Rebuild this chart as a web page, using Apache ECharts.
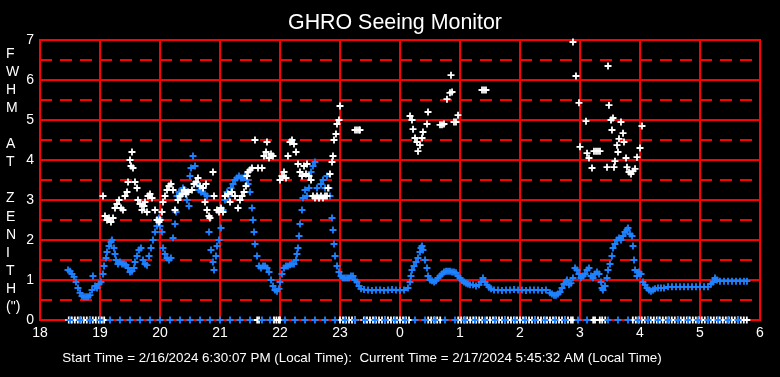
<!DOCTYPE html>
<html>
<head>
<meta charset="utf-8">
<script src="https://cdn.jsdelivr.net/npm/echarts@6/dist/echarts.min.js"></script>
<style>
html,body{margin:0;padding:0;background:#000;}
#chart{width:780px;height:377px;}
</style>
</head>
<body>
<div id="chart"></div>
<script>
// Hours since midnight of start day (values >= 24 are the next morning)
const titleText = 'GHRO Seeing Monitor';
const footerText = 'Start Time = 2/16/2024 6:30:07 PM (Local Time):  Current Time = 2/17/2024 5:45:32 AM (Local Time)';
const yTitle = ['F','W','H','M','','A','T','','Z','E','N','I','T','H','(")'];
const xTickHours = [18,19,20,21,22,23,24,25,26,27,28,29,30];

// White series: [hour, FWHM]
const whiteHours = [19.05,19.083,19.117,19.15,19.183,19.217,19.25,19.283,19.317,19.35,19.383,19.417,19.45,19.467,19.5,19.517,19.533,19.55,19.583,19.617,19.633,19.667,19.7,19.733,19.75,19.783,19.8,19.833,19.867,19.917,19.95,19.983,20.0,20.033,20.05,20.083,20.117,20.15,20.183,20.217,20.25,20.3,20.333,20.367,20.4,20.433,20.467,20.533,20.567,20.6,20.633,20.667,20.717,20.75,20.767,20.783,20.817,20.833,20.883,20.9,20.95,20.983,21.017,21.05,21.083,21.133,21.167,21.2,21.25,21.3,21.333,21.367,21.4,21.433,21.45,21.467,21.5,21.533,21.583,21.633,21.7,21.733,21.767,21.783,21.817,21.85,21.883,22.0,22.033,22.067,22.1,22.133,22.167,22.2,22.233,22.267,22.3,22.333,22.367,22.4,22.433,22.45,22.483,22.517,22.55,22.583,22.617,22.65,22.683,22.717,22.75,22.783,22.8,22.833,22.867,22.883,22.9,22.933,22.95,22.983,23.0,23.25,23.283,23.317,23.333,24.167,24.2,24.217,24.25,24.283,24.3,24.333,24.367,24.383,24.45,24.467,24.667,24.7,24.733,24.783,24.833,24.867,24.85,24.9,24.933,24.967,25.367,25.4,25.433,26.883,26.933,26.983,27.0,27.1,27.117,27.15,27.2,27.233,27.267,27.3,27.333,27.45,27.467,27.483,27.517,27.55,27.533,27.567,27.583,27.617,27.633,27.65,27.683,27.717,27.733,27.767,27.783,27.817,27.85,27.883,27.917,27.95,28.0,28.033];
const whiteFwhm  = [3.1,2.6,2.5,2.55,2.45,2.55,2.8,2.9,3.0,2.8,2.75,3.1,3.2,3.45,4.0,3.85,4.2,3.8,3.45,3.3,3.0,2.9,2.75,2.85,2.95,2.7,3.1,3.15,3.05,2.75,2.5,2.45,2.5,2.7,2.95,3.1,3.25,3.35,3.4,3.25,2.75,3.0,3.1,3.15,3.25,3.15,3.2,3.25,3.4,3.45,3.55,3.35,3.3,2.95,3.4,2.75,2.6,2.55,3.7,3.1,2.75,2.7,2.8,2.7,3.1,3.15,2.95,3.2,3.1,2.8,3.0,3.1,3.2,3.35,3.6,3.7,3.75,3.8,4.5,3.8,3.8,4.1,4.2,4.45,4.05,4.15,4.1,3.5,3.6,3.7,3.55,4.1,4.45,4.5,4.4,4.2,3.9,3.7,3.6,3.85,3.65,3.9,3.6,3.5,3.1,3.05,3.1,3.05,3.1,3.05,3.1,3.1,3.3,3.65,3.95,4.1,4.5,4.65,4.9,5.0,5.35,4.75,4.75,4.75,4.75,5.1,5.0,4.77,4.55,4.45,4.22,4.37,4.55,4.7,4.9,5.2,4.88,4.88,4.9,5.52,5.68,5.7,6.12,4.95,4.95,5.12,5.75,5.75,5.75,6.95,6.1,5.43,4.33,4.97,4.17,4.05,3.8,4.22,4.22,4.22,4.22,3.82,6.35,5.37,5.0,5.05,4.75,3.82,3.97,4.37,4.2,4.53,4.95,4.67,4.45,4.05,3.82,3.7,3.65,3.72,3.78,4.07,4.3,4.85];

// Blue series: [hour, FWHM]
const blueHours = [18.467,18.5,18.533,18.567,18.6,18.633,18.667,18.7,18.733,18.767,18.8,18.833,18.867,18.883,18.917,18.95,18.983,19.017,19.05,19.067,19.1,19.117,19.15,19.183,19.2,19.233,19.25,19.267,19.3,19.333,19.367,19.4,19.433,19.467,19.5,19.533,19.567,19.583,19.617,19.65,19.683,19.717,19.75,19.783,19.817,19.85,19.883,19.917,19.95,19.983,20.0,20.033,20.05,20.083,20.117,20.15,20.183,20.217,20.25,20.267,20.283,20.317,20.35,20.383,20.417,20.45,20.483,20.5,20.517,20.55,20.583,20.617,20.65,20.683,20.717,20.75,20.783,20.817,20.85,20.883,20.9,20.933,20.95,20.983,21.017,21.05,21.083,21.117,21.15,21.183,21.217,21.25,21.283,21.317,21.35,21.383,21.417,21.45,21.467,21.5,21.533,21.55,21.567,21.583,21.617,21.65,21.683,21.717,21.75,21.783,21.817,21.85,21.883,21.917,21.95,21.983,22.0,22.033,22.067,22.1,22.133,22.167,22.2,22.233,22.267,22.283,22.3,22.317,22.333,22.367,22.383,22.417,22.45,22.483,22.517,22.55,22.583,22.617,22.65,22.683,22.717,22.75,22.783,22.817,22.833,22.867,22.883,22.9,22.917,22.95,22.983,23.017,23.05,23.083,23.117,23.15,23.183,23.217,23.25,23.283,23.317,23.35,23.4,23.467,23.533,23.6,23.667,23.733,23.8,23.867,23.933,24.0,24.067,24.133,24.167,24.183,24.2,24.233,24.267,24.3,24.333,24.35,24.367,24.383,24.417,24.45,24.467,24.5,24.533,24.567,24.6,24.633,24.667,24.7,24.733,24.767,24.8,24.833,24.867,24.9,24.933,24.967,25.0,25.033,25.067,25.1,25.133,25.167,25.217,25.267,25.317,25.35,25.383,25.417,25.45,25.483,25.517,25.567,25.633,25.7,25.767,25.833,25.9,25.967,26.033,26.1,26.167,26.233,26.3,26.367,26.433,26.5,26.533,26.567,26.6,26.633,26.667,26.7,26.733,26.767,26.783,26.817,26.85,26.883,26.917,26.95,26.983,27.017,27.05,27.083,27.117,27.15,27.183,27.217,27.25,27.283,27.317,27.35,27.367,27.383,27.417,27.45,27.467,27.5,27.533,27.55,27.583,27.617,27.65,27.683,27.717,27.75,27.783,27.8,27.833,27.867,27.883,27.9,27.917,27.95,27.983,28.017,28.05,28.083,28.117,28.15,28.183,28.217,28.25,28.3,28.35,28.4,28.467,28.533,28.6,28.667,28.733,28.8,28.867,28.933,29.0,29.067,29.133,29.183,29.217,29.25,29.283,29.333,29.4,29.467,29.533,29.6,29.667,29.733,29.783];
const blueFwhm  = [1.25,1.22,1.15,1.08,0.95,0.8,0.68,0.6,0.58,0.58,0.58,0.62,0.75,1.1,0.85,0.8,0.9,0.95,1.15,1.35,1.55,1.7,1.85,1.95,2.0,1.8,1.65,1.5,1.4,1.45,1.4,1.4,1.38,1.3,1.2,1.22,1.3,1.45,1.6,1.75,1.8,1.5,1.4,1.37,1.6,1.8,2.0,2.2,2.35,2.55,2.35,2.2,1.8,1.65,1.55,1.5,1.55,2.05,2.4,2.7,3.1,3.2,3.1,3.3,3.25,3.0,2.85,3.6,3.8,4.1,3.85,3.4,3.25,3.2,3.3,3.15,3.1,2.2,1.75,1.45,1.25,1.6,1.85,2.0,2.3,2.75,3.0,3.2,3.1,3.3,3.4,3.5,3.55,3.6,3.55,3.55,3.6,3.5,3.4,3.2,2.8,2.5,2.2,1.9,1.6,1.35,1.3,1.35,1.35,1.3,1.2,1.0,0.85,0.75,0.72,0.78,0.95,1.15,1.3,1.35,1.35,1.38,1.4,1.4,1.5,1.65,1.8,2.1,2.4,2.75,3.05,3.25,3.1,3.3,3.7,3.85,3.95,3.3,3.05,3.4,3.5,3.3,3.6,3.3,3.1,2.55,2.25,1.9,1.6,1.35,1.2,1.1,1.05,1.05,1.05,1.05,1.1,1.1,1.0,0.95,0.85,0.78,0.76,0.75,0.74,0.75,0.75,0.74,0.75,0.76,0.75,0.74,0.75,0.8,0.95,1.1,1.25,1.35,1.45,1.55,1.7,1.8,1.85,1.75,1.5,1.3,1.1,1.0,0.98,0.95,0.98,1.05,1.1,1.15,1.2,1.22,1.22,1.22,1.2,1.2,1.18,1.1,1.05,0.98,0.95,0.92,0.9,0.88,0.88,0.85,0.88,0.95,1.05,0.95,0.88,0.82,0.78,0.75,0.75,0.74,0.75,0.75,0.76,0.75,0.75,0.74,0.75,0.75,0.75,0.74,0.75,0.68,0.65,0.62,0.62,0.65,0.7,0.8,0.9,0.95,1.0,0.88,0.92,1.05,1.3,1.25,1.15,1.05,1.1,1.15,1.25,1.3,1.1,1.05,1.15,1.2,1.15,0.95,0.8,0.75,0.85,1.05,1.25,1.4,1.6,1.8,1.9,2.0,2.05,2.0,2.1,2.2,2.25,2.3,2.15,2.1,1.85,1.5,1.25,1.1,1.2,1.15,0.95,0.88,0.8,0.75,0.72,0.75,0.78,0.8,0.8,0.8,0.83,0.83,0.83,0.83,0.83,0.83,0.83,0.83,0.83,0.83,0.83,0.9,0.95,1.05,1.0,0.97,0.97,0.97,0.97,0.97,0.97,0.97,0.97];

// Zero readings along the baseline
const whiteZeroHours = [18.48,18.53,18.58,18.63,18.68,18.73,18.78,18.83,18.88,18.93,18.98,19.03,19.07,21.62,21.65,21.9,21.94,21.98,22.0,23.0,23.05,23.1,23.15,23.2,23.25,23.4,23.45,23.5,23.55,23.6,23.65,23.7,23.75,23.8,23.85,23.9,23.95,24.0,24.05,24.1,24.15,24.47,24.52,24.57,24.62,24.67,24.97,25.02,25.07,25.12,25.17,25.22,25.27,25.32,25.37,25.45,25.5,25.55,25.6,25.65,25.7,25.75,25.8,25.85,25.9,25.95,26.0,26.05,26.1,26.15,26.2,26.25,26.3,26.35,26.4,26.45,26.5,26.55,26.6,26.65,26.7,26.75,26.8,26.85,26.88,27.22,27.25,27.33,27.37,27.42,27.88,27.93,27.98,28.03,28.08,28.13,28.18,28.23,28.28,28.33,28.38,28.43,28.48,28.53,28.58,28.63,28.68,28.73,28.78,28.83,28.88,28.93,28.98,29.03,29.08,29.13,29.18,29.23,29.28,29.33,29.38,29.43,29.48,29.53,29.58,29.63,29.68,29.73,29.78];
const blueZeroHours = [18.5,18.667,18.833,19.0,19.167,19.333,19.5,19.667,19.833,20.0,20.167,20.333,20.5,20.667,20.833,21.0,21.167,21.333,21.5,21.7,21.833,22.083,22.25,22.417,22.583,22.75,22.917,23.083,23.25,23.417,23.583,23.75,23.917,24.083,24.25,24.417,24.583,24.75,24.917,25.083,25.25,25.417,25.583,25.75,25.917,26.083,26.25,26.417,26.583,26.75,26.967,27.117,27.467,27.633,27.8,27.967,28.133,28.3,28.467,28.633,28.8,28.967,29.133,29.3,29.467,29.633];

const plusPath = 'path://M0,2.6L7,2.6L7,4.4L0,4.4Z M2.6,0L4.4,0L4.4,7L2.6,7Z';
const WHITE = '#ffffff';
const BLUE = '#1e82ff';
const RED = '#ff0000';

function pairs(xs, ys){ return xs.map((x,i)=>[x, ys[i]]); }
function zeros(xs){ return xs.map(x=>[x, 0]); }

const chart = echarts.init(document.getElementById('chart'), null, {renderer:'canvas'});
chart.setOption({
  backgroundColor: '#000000',
  animation: false,
  title: [{
    text: titleText, left: 390, top: 8, textAlign: 'center',
    textStyle: {color: WHITE, fontSize: 21.4, fontWeight: 'normal', fontFamily: 'Liberation Sans'}
  },{
    text: footerText, left: 357, top: 347, textAlign: 'center',
    textStyle: {color: WHITE, fontSize: 13.4, fontWeight: 'normal', fontFamily: 'Liberation Sans'}
  }],
  graphic: [{
    type: 'text', left: 6, top: 45,
    style: {
      text: yTitle.join('\n'), fill: WHITE, font: '14px "Liberation Sans"',
      lineHeight: 18.07, align: 'center', width: 14
    }
  }],
  grid: {left: 40, right: 20, top: 40, bottom: 57, show: true, borderColor: RED, borderWidth: 2},
  xAxis: {
    type: 'value', min: 18, max: 30, interval: 1,
    axisLine: {show: false},
    axisTick: {show: false},
    axisLabel: {color: WHITE, fontSize: 14, fontFamily: 'Liberation Sans', margin: 6,
      formatter: v => String(v % 24), showMinLabel: true, showMaxLabel: true},
    splitLine: {show: true, lineStyle: {color: RED, width: 2}}
  },
  yAxis: [{
    type: 'value', min: 0, max: 7, interval: 1,
    axisLine: {show: false}, axisTick: {show: false},
    axisLabel: {color: WHITE, fontSize: 14, fontFamily: 'Liberation Sans', margin: 6},
    splitLine: {show: true, lineStyle: {color: RED, width: 2}}
  },{
    type: 'value', min: 0, max: 7, interval: 0.5, position: 'left',
    axisLine: {show: false}, axisTick: {show: false}, axisLabel: {show: false},
    splitLine: {show: true, lineStyle: {color: RED, width: 2, type: [12, 8]}}
  }],
  series: [
    {type: 'scatter', name: 'whiteZero', data: zeros(whiteZeroHours), symbol: plusPath, symbolSize: 7,
      itemStyle: {color: WHITE, opacity: 1}, z: 2, silent: true},
    {type: 'scatter', name: 'blue', data: pairs(blueHours, blueFwhm), symbol: plusPath, symbolSize: 7,
      itemStyle: {color: BLUE, opacity: 1}, z: 3, silent: true},
    {type: 'scatter', name: 'white', data: pairs(whiteHours, whiteFwhm), symbol: plusPath, symbolSize: 7,
      itemStyle: {color: WHITE, opacity: 1}, z: 4, silent: true},
    {type: 'scatter', name: 'blueZero', data: zeros(blueZeroHours), symbol: plusPath, symbolSize: 7,
      itemStyle: {color: BLUE, opacity: 1}, z: 5, silent: true}
  ]
});
</script>
</body>
</html>
